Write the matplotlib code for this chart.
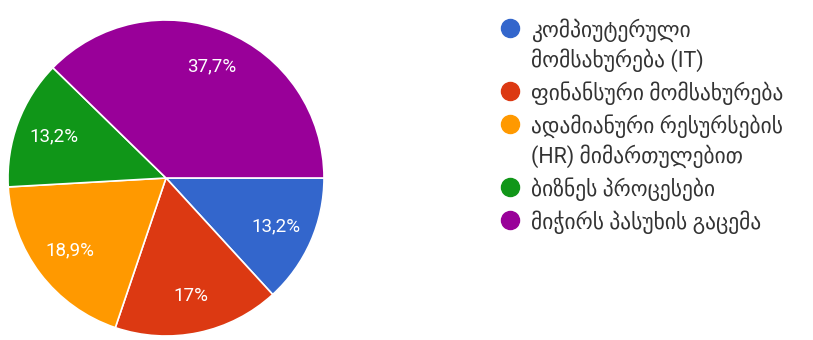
import numpy as np
import matplotlib.pyplot as plt
from matplotlib.lines import Line2D

plt.rcParams["font.family"] = ["Roboto", "DejaVu Sans"]

categories = [
    "კომპიუტერული\nმომსახურება (IT)",
    "ფინანსური მომსახურება",
    "ადამიანური რესურსების\n(HR) მიმართულებით",
    "ბიზნეს პროცესები",
    "მიჭირს პასუხის გაცემა",
]
shares = [13.2, 17.0, 18.9, 13.2, 37.7]
colors = ["#3366cc", "#dc3912", "#ff9900", "#109618", "#990099"]


def pct_label(v):
    return f"{v:g}".replace(".", ",") + "%"


W, H = 813, 340
fig = plt.figure(figsize=(W / 100, H / 100), dpi=100)

# pie area: centre (166, 178) px from top-left, radius 158 px
cx, cy, r = 166, 178, 158
ax = fig.add_axes([(cx - r) / W, (H - cy - r) / H, 2 * r / W, 2 * r / H])
wedges, _ = ax.pie(
    shares,
    colors=colors,
    startangle=0,
    counterclock=False,
    radius=1.0,
    wedgeprops=dict(edgecolor="white", linewidth=1.2),
)

# percentage labels inside each wedge
for w, v in zip(wedges, shares):
    mid = np.deg2rad((w.theta1 + w.theta2) / 2)
    ax.text(0.76 * np.cos(mid), 0.76 * np.sin(mid), pct_label(v),
            ha="center", va="center", color="white", fontsize=13.5)
ax.set_xlim(-1, 1)
ax.set_ylim(-1, 1)
ax.set_aspect("equal")
ax.axis("off")

# legend drawn by hand: one text line per row, dot next to the first line
x_dot, x_txt = 510, 531
line_gap = 30
item_gap = 33
y = 28
for label, color in zip(categories, colors):
    fig.add_artist(Line2D([x_dot / W], [1 - y / H], marker="o", markersize=13,
                          color=color, transform=fig.transFigure))
    lines = label.split("\n")
    for i, line in enumerate(lines):
        fig.text(x_txt / W, 1 - (y + i * line_gap) / H, line,
                 ha="left", va="center_baseline", fontsize=15.5, color="#333333")
    y += line_gap * (len(lines) - 1) + item_gap

fig.savefig("out.png", dpi=100, facecolor="white")
